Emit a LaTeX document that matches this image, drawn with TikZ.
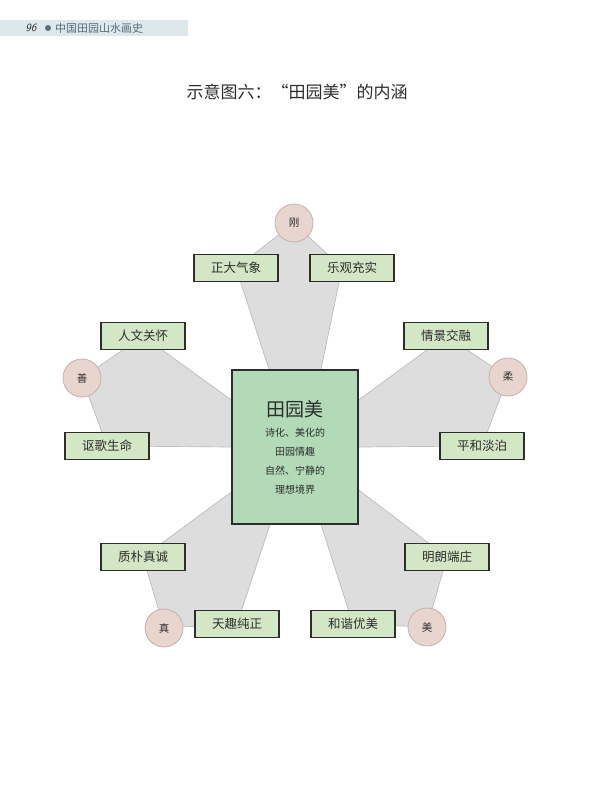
\documentclass[tikz,border=0pt]{standalone}
\usepackage{fontspec}
\newfontfamily\cjk{Noto Sans CJK SC}
\usetikzlibrary{positioning, calc, backgrounds}
\definecolor{tagfill}{RGB}{212, 231, 197}
\definecolor{corefill}{RGB}{179, 218, 183}
\definecolor{virtuefill}{RGB}{232, 214, 206}
\definecolor{virtueline}{RGB}{196, 178, 170}
\definecolor{petalfill}{RGB}{221, 221, 221}
\definecolor{petalline}{RGB}{188, 188, 188}
\definecolor{headbar}{RGB}{222, 232, 234}
\definecolor{headtext}{RGB}{84, 110, 124}
\definecolor{ink}{RGB}{45, 45, 45}

\tikzset{
  tagbox/.style={draw=ink, line width=1.3pt, fill=tagfill, minimum width=84pt, minimum height=27pt,
    inner sep=0pt, font=\cjk\fontsize{12.5}{14}\selectfont, text=ink},
  virtue/.style={circle, draw=virtueline, line width=0.8pt, fill=virtuefill, minimum size=38pt,
    inner sep=0pt, font=\cjk\fontsize{10.5}{12}\selectfont, text=ink},
  petal/.style={draw=petalline, line width=0.7pt, fill=petalfill}
}

\begin{document}
\begin{tikzpicture}[x=1pt, y=-1pt]
  \useasboundingbox (0,0) rectangle (590,800);
  % Header
  \fill[headbar] (0,20) rectangle (188,36);
  \node[font=\sffamily\itshape\fontsize{11}{12}\selectfont, text=ink] (pagenum) at (31,28) {96};
  \fill[headtext] (48,28) circle (3pt);
  \node[anchor=west, font=\cjk\fontsize{11}{12}\selectfont, text=headtext, inner sep=0pt] (booktitle) at (55,28) {中国田园山水画史};
  % Title
  \node[font=\cjk\fontsize{17}{20}\selectfont, text=ink] (title) at (297,92) {示意图六：“田园美”的内涵};

  % Core
  \node[draw=ink, line width=1.3pt, fill=corefill, minimum width=126pt, minimum height=154pt, align=center,
    text=ink, font=\cjk\fontsize{10}{19}\selectfont] (tian) at (295,447)
    {\fontsize{19}{22}\selectfont 田园美\\[1pt]
     \fontsize{10}{19}\selectfont 诗化、美化的\\田园情趣\\自然、宁静的\\理想境界};

  % Virtues
  \node[virtue] (gang) at (294,223) {刚};
  \node[virtue] (shan) at (82,378) {善};
  \node[virtue] (rou) at (508,377) {柔};
  \node[virtue] (zhen) at (164,628) {真};
  \node[virtue] (mei) at (427,627) {美};

  % Tags
  \node[tagbox] (zhengda) at (236,268) {正大气象};
  \node[tagbox] (leguan) at (352,268) {乐观充实};
  \node[tagbox] (renwen) at (143,336) {人文关怀};
  \node[tagbox] (ouge) at (107,446) {讴歌生命};
  \node[tagbox] (qingjing) at (446,336) {情景交融};
  \node[tagbox] (pinghe) at (482,446) {平和淡泊};
  \node[tagbox] (zhipu) at (143,557) {质朴真诚};
  \node[tagbox] (tianqu) at (237,624) {天趣纯正};
  \node[tagbox] (minglang) at (447,557) {明朗端庄};
  \node[tagbox] (hexie) at (353,624) {和谐优美};

  % Petals
  \begin{scope}[on background layer]
    \draw[petal] (gang.center) -- (zhengda.center) -- ($(tian.north)+(-26,0)$) -- ($(tian.north)+(26,0)$)
      -- ($(leguan.center)+(-10,0)$) -- cycle;
    \draw[petal] (shan.center) -- (renwen.center) -- ($(tian.west)+(0,-47)$) -- (tian.west)
      -- (ouge.center) -- cycle;
    \draw[petal] (rou.center) -- (qingjing.center) -- ($(tian.east)+(0,-47)$) -- (tian.east)
      -- (pinghe.center) -- cycle;
    \draw[petal] (zhen.center) -- (zhipu.center) -- ($(tian.west)+(0,45)$) -- ($(tian.south)+(-25,0)$)
      -- (tianqu.center) -- cycle;
    \draw[petal] (mei.center) -- (hexie.center) -- ($(tian.south)+(26,0)$) -- ($(tian.east)+(0,43)$)
      -- (minglang.center) -- cycle;
  \end{scope}
\end{tikzpicture}
\end{document}
